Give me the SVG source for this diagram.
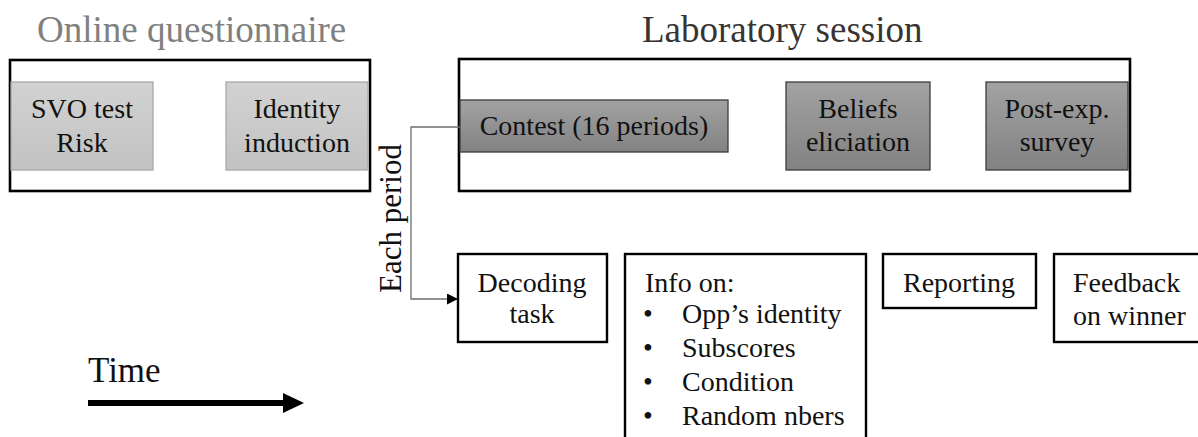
<svg xmlns="http://www.w3.org/2000/svg" width="1198" height="437" viewBox="0 0 1198 437">
<style>
text{font-family:'Liberation Serif','Times New Roman',Times,serif;fill:#111}
.title{font-size:37px}
.t{font-size:28px;text-anchor:middle}
.tl{font-size:28px}
.outer{fill:#fff;stroke:#000;stroke-width:2.6}
.light{fill:url(#gl);stroke:#a8a8a8;stroke-width:1.3}
.dark{fill:url(#gd);stroke:#3c3c3c;stroke-width:1.3}
.sub{fill:#fff;stroke:#000;stroke-width:2.4}
</style>
<defs>
<linearGradient id="gl" x1="0" y1="0" x2="0" y2="1"><stop offset="0" stop-color="#d2d2d2"/><stop offset="1" stop-color="#c2c2c2"/></linearGradient>
<linearGradient id="gd" x1="0" y1="0" x2="0" y2="1"><stop offset="0" stop-color="#a2a2a2"/><stop offset="1" stop-color="#828282"/></linearGradient>
<marker id="ah" viewBox="0 0 10 10" refX="10" refY="5" markerWidth="13" markerHeight="11" markerUnits="userSpaceOnUse" orient="auto"><path d="M0,0 L10,5 L0,10 Z" fill="#000"/></marker>
</defs>

<g id="online">
<text class="title" x="37" y="42" style="fill:#808080">Online questionnaire</text>
<rect class="outer" x="10" y="60" width="360" height="131"/>
</g>
<g id="svo">
<rect class="light" x="11" y="82" width="142" height="88"/>
<text class="t" x="82" y="118">SVO test</text>
<text class="t" x="82" y="152">Risk</text>
</g>
<g id="identity">
<rect class="light" x="226" y="82" width="142" height="88"/>
<text class="t" x="297" y="118">Identity</text>
<text class="t" x="297" y="152">induction</text>
</g>

<g id="lab">
<text class="title" x="642" y="42" style="fill:#383434">Laboratory session</text>
<rect class="outer" x="459" y="59" width="671" height="132"/>
</g>
<g id="contest">
<rect class="dark" x="460" y="100" width="268" height="52"/>
<text class="t" x="594" y="135">Contest (16 periods)</text>
</g>
<g id="beliefs">
<rect class="dark" x="786" y="82" width="144" height="88"/>
<text class="t" x="858" y="118">Beliefs</text>
<text class="t" x="858" y="151">eliciation</text>
</g>
<g id="postexp">
<rect class="dark" x="986" y="82" width="142" height="88"/>
<text class="t" x="1057" y="118">Post-exp.</text>
<text class="t" x="1057" y="151">survey</text>
</g>

<g id="connectors">
<polyline points="460,127 411,127 411,299 458,299" fill="none" stroke="#6e6e6e" stroke-width="1.3" marker-end="url(#ah)"/>
<line x1="88" y1="403" x2="286" y2="403" stroke="#000" stroke-width="6"/>
<path d="M283,393 L304,403 L283,413 Z" fill="#000"/>
</g>

<g id="each-period">
<text x="0" y="0" transform="translate(401,293) rotate(-90)" style="font-size:31px">Each period</text>
</g>

<g id="decoding">
<rect class="sub" x="458" y="254" width="149" height="88"/>
<text class="t" x="532" y="292">Decoding</text>
<text class="t" x="532" y="323">task</text>
</g>
<g id="info">
<rect class="sub" x="625" y="254" width="241" height="200"/>
<text class="tl" x="645" y="292">Info on:</text>
<text class="tl" x="643" y="323">•</text>
<text class="tl" x="682" y="323">Opp’s identity</text>
<text class="tl" x="643" y="357">•</text>
<text class="tl" x="682" y="357">Subscores</text>
<text class="tl" x="643" y="391">•</text>
<text class="tl" x="682" y="391">Condition</text>
<text class="tl" x="643" y="425">•</text>
<text class="tl" x="682" y="425">Random nbers</text>
</g>
<g id="reporting">
<rect class="sub" x="883" y="254" width="153" height="54"/>
<text class="t" x="959" y="292">Reporting</text>
</g>
<g id="feedback">
<rect class="sub" x="1054" y="254" width="160" height="88"/>
<text class="tl" x="1073" y="292">Feedback</text>
<text class="tl" x="1073" y="325">on winner</text>
</g>

<g id="time">
<text x="88" y="382" style="font-size:35px">Time</text>
</g>
</svg>
